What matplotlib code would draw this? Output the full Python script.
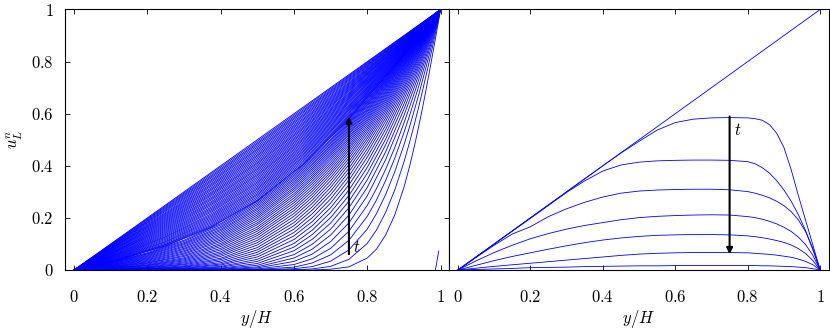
import numpy as np
import matplotlib
matplotlib.use("Agg")
import matplotlib.pyplot as plt

# profiles, u in thousandths
# left panel: start-up, first five profiles on a finer grid near the wall
x_fine = [0, 0.1, 0.2, 0.3, 0.4, 0.5, 0.6, 0.65, 0.7, 0.75, 0.8, 0.825, 0.85, 0.875, 0.9,
          0.915, 0.93, 0.94, 0.95, 0.96, 0.97, 0.978, 0.985, 0.993, 1.0]
u_fine = [
    [0, 0, 0, 0, 0, 0, 0, 0, 3, 12, 46, 80, 134, 211, 317, 395, 484, 549, 617, 689, 764, 826, 881, 944, 1000],
    [0, 0, 0, 0, 0, 0, 1, 4, 14, 41, 102, 153, 221, 307, 414, 488, 568, 624, 683, 744, 806, 857, 903, 954, 1000],
    [0, 0, 0, 0, 0, 0, 5, 13, 34, 77, 157, 216, 289, 377, 480, 548, 621, 671, 724, 777, 832, 876, 916, 961, 1000],
    [0, 0, 0, 0, 0, 2, 11, 27, 58, 114, 206, 268, 343, 429, 527, 591, 658, 704, 752, 800, 850, 889, 924, 965, 1000],
    [0, 0, 0, 0, 1, 4, 21, 43, 83, 149, 248, 312, 386, 470, 564, 624, 686, 729, 773, 817, 862, 899, 931, 968, 1000],
]

x_mid = [0, 0.1, 0.2, 0.3, 0.4, 0.5, 0.6, 0.65, 0.7, 0.75, 0.8, 0.85, 0.9, 0.93, 0.95, 0.97, 0.985, 1.0]
u_mid = [
    [0, 0, 0, 0, 1, 8, 33, 61, 109, 181, 285, 423, 593, 708, 789, 873, 936, 1000],
    [0, 0, 0, 0, 3, 12, 46, 80, 134, 211, 317, 453, 617, 726, 803, 881, 940, 1000],
    [0, 0, 0, 1, 5, 18, 59, 99, 157, 239, 346, 480, 637, 741, 814, 888, 944, 1000],
    [0, 0, 0, 2, 7, 25, 74, 118, 180, 264, 371, 502, 655, 754, 823, 893, 947, 1000],
    [0, 0, 1, 3, 11, 33, 88, 136, 201, 286, 394, 522, 670, 765, 831, 898, 949, 1000],
    [0, 0, 1, 4, 14, 41, 102, 153, 221, 307, 414, 540, 683, 775, 838, 903, 951, 1000],
    [0, 0, 2, 6, 19, 50, 117, 170, 239, 327, 433, 556, 695, 784, 845, 906, 953, 1000],
    [0, 1, 2, 8, 23, 59, 131, 186, 257, 345, 450, 571, 705, 791, 850, 910, 955, 1000],
    [0, 1, 3, 11, 28, 68, 144, 201, 273, 361, 465, 584, 715, 798, 855, 913, 956, 1000],
    [0, 1, 5, 13, 34, 77, 157, 216, 289, 377, 480, 596, 724, 805, 860, 916, 958, 1000],
    [0, 2, 6, 16, 40, 86, 170, 230, 303, 391, 493, 607, 732, 810, 864, 918, 959, 1000],
    [0, 2, 8, 20, 45, 96, 182, 243, 317, 405, 505, 617, 739, 816, 868, 920, 960, 1000],
    [0, 3, 9, 23, 52, 105, 194, 256, 330, 417, 516, 626, 746, 820, 871, 922, 961, 1000],
    [0, 4, 11, 27, 58, 114, 206, 268, 343, 429, 527, 635, 752, 825, 874, 924, 962, 1000],
    [0, 5, 13, 31, 64, 123, 217, 280, 355, 440, 537, 643, 758, 829, 877, 926, 963, 1000],
    [0, 6, 16, 35, 70, 132, 228, 291, 366, 451, 546, 651, 763, 833, 880, 928, 964, 1000],
    [0, 7, 18, 39, 77, 140, 238, 302, 376, 461, 555, 658, 768, 836, 883, 930, 965, 1000],
    [0, 8, 20, 43, 83, 149, 248, 312, 386, 470, 564, 665, 773, 840, 885, 931, 965, 1000],
    [0, 9, 23, 47, 90, 157, 258, 322, 396, 479, 572, 671, 777, 843, 888, 932, 966, 1000],
    [0, 10, 26, 52, 96, 165, 267, 332, 405, 488, 579, 677, 782, 846, 890, 934, 967, 1000],
    [0, 12, 28, 56, 102, 174, 276, 341, 414, 496, 586, 683, 785, 849, 892, 935, 967, 1000],
    [0, 13, 31, 61, 109, 181, 285, 350, 423, 504, 593, 688, 789, 852, 894, 936, 968, 1000],
    [0, 14, 34, 65, 115, 189, 293, 358, 431, 511, 599, 694, 793, 854, 896, 937, 969, 1000],
    [0, 16, 37, 70, 121, 197, 302, 366, 439, 519, 606, 699, 796, 857, 897, 938, 969, 1000],
    [0, 17, 40, 74, 127, 204, 310, 374, 446, 525, 611, 703, 799, 859, 899, 939, 970, 1000],
    [0, 18, 43, 79, 133, 211, 317, 382, 453, 532, 617, 708, 803, 861, 901, 940, 970, 1000],
    [0, 20, 46, 83, 139, 218, 325, 389, 460, 538, 622, 712, 806, 863, 902, 941, 971, 1000],
    [0, 21, 49, 88, 145, 225, 332, 396, 467, 544, 628, 716, 808, 865, 903, 942, 971, 1000],
    [0, 23, 52, 92, 151, 232, 339, 403, 473, 550, 633, 720, 811, 867, 905, 943, 971, 1000],
    [0, 24, 55, 97, 156, 238, 346, 409, 479, 556, 637, 724, 814, 869, 906, 944, 972, 1000],
    [0, 26, 58, 101, 162, 245, 352, 416, 485, 561, 642, 727, 816, 871, 907, 944, 972, 1000],
    [0, 27, 61, 105, 167, 251, 359, 422, 491, 566, 646, 731, 819, 872, 909, 945, 973, 1000],
    [0, 29, 63, 110, 173, 257, 365, 428, 497, 571, 651, 734, 821, 874, 910, 946, 973, 1000],
    [0, 30, 66, 114, 178, 263, 371, 434, 502, 576, 655, 737, 823, 876, 911, 947, 973, 1000],
]

# late profiles, close to the linear steady state
x_late = [0, 0.125, 0.25, 0.375, 0.5, 0.625, 0.75, 0.875, 1.0]
u_late = [
    [0, 40, 92, 164, 266, 405, 579, 782, 1000],
    [0, 41, 94, 167, 269, 407, 582, 783, 1000],
    [0, 43, 97, 171, 275, 413, 586, 786, 1000],
    [0, 44, 99, 176, 281, 419, 590, 788, 1000],
    [0, 46, 103, 181, 287, 425, 595, 790, 1000],
    [0, 48, 107, 186, 292, 431, 600, 793, 1000],
    [0, 50, 110, 191, 298, 436, 604, 795, 1000],
    [0, 52, 114, 196, 304, 442, 608, 798, 1000],
    [0, 54, 118, 201, 310, 447, 613, 800, 1000],
    [0, 56, 122, 206, 315, 453, 617, 803, 1000],
    [0, 58, 126, 211, 321, 458, 622, 805, 1000],
    [0, 60, 129, 216, 327, 464, 626, 808, 1000],
    [0, 62, 133, 222, 333, 469, 630, 810, 1000],
    [0, 64, 137, 227, 338, 475, 634, 812, 1000],
    [0, 66, 141, 232, 344, 480, 639, 815, 1000],
    [0, 68, 145, 237, 350, 486, 643, 817, 1000],
    [0, 70, 149, 242, 356, 491, 647, 819, 1000],
    [0, 73, 153, 248, 362, 497, 651, 822, 1000],
    [0, 75, 157, 253, 367, 502, 656, 824, 1000],
    [0, 77, 161, 258, 373, 507, 660, 826, 1000],
    [0, 79, 165, 263, 379, 513, 664, 828, 1000],
    [0, 81, 169, 269, 385, 518, 668, 831, 1000],
    [0, 83, 173, 274, 390, 524, 672, 833, 1000],
    [0, 85, 177, 279, 396, 529, 676, 835, 1000],
    [0, 88, 181, 285, 402, 534, 680, 837, 1000],
    [0, 90, 185, 290, 408, 540, 685, 840, 1000],
    [0, 92, 189, 295, 413, 545, 689, 842, 1000],
    [0, 94, 193, 300, 419, 550, 693, 844, 1000],
    [0, 96, 197, 306, 425, 556, 697, 846, 1000],
    [0, 99, 201, 311, 431, 561, 701, 848, 1000],
    [0, 101, 205, 316, 437, 566, 705, 851, 1000],
    [0, 103, 209, 322, 442, 572, 709, 853, 1000],
    [0, 105, 213, 327, 448, 577, 713, 855, 1000],
    [0, 107, 217, 332, 454, 582, 717, 857, 1000],
    [0, 110, 221, 338, 460, 588, 721, 860, 1000],
    [0, 112, 226, 343, 465, 593, 726, 862, 1000],
    [0, 114, 230, 348, 471, 598, 730, 864, 1000],
    [0, 116, 234, 354, 477, 604, 734, 866, 1000],
    [0, 118, 238, 359, 483, 609, 738, 868, 1000],
    [0, 121, 242, 364, 488, 614, 742, 871, 1000],
    [0, 123, 246, 370, 494, 620, 746, 873, 1000],
    [0, 125, 250, 375, 500, 625, 750, 875, 1000],
]

# the t=0 profile only shows as a short stub at the moving wall
stub_x = [0.986, 0.995]
stub_u = [0, 0.073]

# right panel: decay from the linear profile
r0_x = [0, 1]
r0_u = [0, 1]
rx = [0, 0.05, 0.1, 0.15, 0.2, 0.25, 0.3, 0.35, 0.4, 0.45, 0.5, 0.55, 0.6, 0.65, 0.7,
      0.75, 0.8, 0.82, 0.84, 0.86, 0.88, 0.9, 0.92, 0.94, 0.96, 0.98, 1.0]
r_a = [0, .05, .1, .15, .2, .25, .3, .35, .4, .449, .494, .537, .566, .579, .584, .585, .584, .581, .575, .558, .525, .47, .385, .285, .19, .095, 0]
r_b = [0, .05, .099, .149, .198, .248, .298, .342, .38, .403, .414, .419, .421, .422, .422, .421, .416, .408, .393, .372, .343, .307, .264, .212, .15, .077, 0]
r_c = [0, .048, .095, .138, .166, .205, .235, .26, .28, .295, .303, .307, .309, .31, .31, .308, .301, .295, .287, .277, .264, .247, .224, .192, .147, .082, 0]
r_d = [0, .035, .067, .095, .12, .14, .157, .171, .182, .193, .201, .206, .209, .211, .212, .211, .205, .201, .195, .187, .177, .164, .148, .126, .097, .056, 0]
r_e = [0, .018, .036, .052, .066, .08, .093, .105, .115, .123, .129, .133, .135, .136, .136, .135, .131, .128, .124, .119, .113, .106, .096, .082, .063, .036, 0]
r_f = [0, .007, .014, .02, .026, .032, .038, .044, .05, .056, .061, .064, .066, .067, .067, .067, .066, .064, .062, .06, .057, .053, .049, .042, .033, .02, 0]
r_g = [0, .002, .004, .006, .009, .01, .011, .013, .014, .015, .016, .016, .017, .017, .017, .017, .017, .017, .016, .016, .015, .014, .013, .011, .009, .005, 0]

ticks = [0, 0.2, 0.4, 0.6, 0.8, 1]
tick_labels = ['$0$', '$0.2$', '$0.4$', '$0.6$', '$0.8$', '$1$']

plt.rcParams['mathtext.fontset'] = 'cm'
plt.rcParams['font.family'] = 'serif'
plt.rcParams['font.serif'] = ['DejaVu Serif']

fig = plt.figure(figsize=(8.3, 3.29), dpi=100)
ax1 = fig.add_axes([65 / 830, 59 / 329, 384 / 830, 260.5 / 329])
ax2 = fig.add_axes([449 / 830, 59 / 329, 379.5 / 830, 260.5 / 329])

line = dict(color='blue', lw=0.6)
for row in u_fine:
    ax1.plot(x_fine, np.array(row) / 1000, **line)
for row in u_mid:
    ax1.plot(x_mid, np.array(row) / 1000, **line)
for row in u_late:
    ax1.plot(x_late, np.array(row) / 1000, **line)
ax1.plot(stub_x, stub_u, **line)

ax2.plot(r0_x, r0_u, **line)
for r in (r_a, r_b, r_c, r_d, r_e, r_f, r_g):
    ax2.plot(rx, r, **line)

for ax in (ax1, ax2):
    ax.set_xlim(-0.0246, 1.023)
    ax.set_ylim(0, 1)
    ax.set_xticks(ticks)
    ax.set_xticklabels(tick_labels)
    ax.tick_params(direction='in', top=True, length=3.6, width=0.6, labelsize=12)
    ax.tick_params(axis='x', pad=14)
    ax.set_xlabel('$y/H$', fontsize=12, labelpad=1)
    for s in ax.spines.values():
        s.set_linewidth(0.8)
ax1.set_yticks(ticks)
ax1.set_yticklabels(tick_labels)
ax1.tick_params(axis='y', right=True, pad=8)
ax1.set_ylabel('$u^{n}_{L}$', fontsize=12, labelpad=4)
ax2.set_yticks([])

# time arrows
ax1.annotate('', xy=(0.75, 0.6), xytext=(0.75, 0.05),
             arrowprops=dict(arrowstyle='-|>', color='black', lw=1.5, mutation_scale=9))
ax1.text(0.762, 0.07, '$t$', fontsize=12)
ax2.annotate('', xy=(0.75, 0.05), xytext=(0.75, 0.6),
             arrowprops=dict(arrowstyle='-|>', color='black', lw=1.5, mutation_scale=9))
ax2.text(0.762, 0.52, '$t$', fontsize=12)

fig.savefig("out.png")
plt.close(fig)
